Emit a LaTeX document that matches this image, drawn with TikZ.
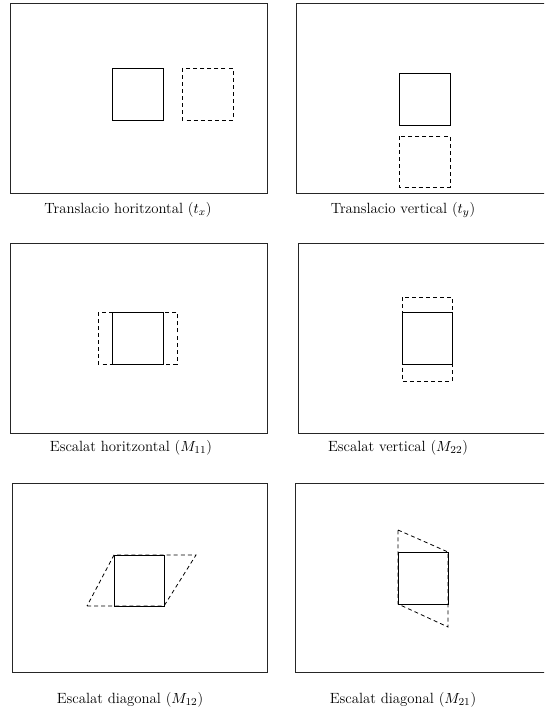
\documentclass[tikz,border=0pt]{standalone}
\begin{document}
\begin{tikzpicture}[x=0.75pt,y=-0.75pt,
  frame/.style={draw=black!85,line width=0.65pt},
  orig/.style={draw=black,line width=0.6pt},
  trans/.style={draw=black,line width=0.6pt,dash pattern=on 3pt off 2.3pt},
  lab/.style={font=\fontsize{11.1}{13}\selectfont,inner sep=0pt,anchor=center}]
\useasboundingbox (0,0) rectangle (544,710);
\clip (0,0) rectangle (544,710);
% Panel 1
\draw[frame] (10,3) rectangle (267,193);
\draw[orig] (112,68) rectangle (163,120);
\draw[trans] (182,68) rectangle (233,120);
\node[lab] (l1) at (128,210) {Translacio horitzontal ($t_x$)};
% Panel 2
\draw[frame] (296,3) rectangle (570,193);
\draw[orig] (399,73) rectangle (450,125);
\draw[trans] (399,136) rectangle (450,187);
\node[lab] (l2) at (403,210) {Translacio vertical ($t_y$)};
% Panel 3
\draw[frame] (10,243) rectangle (267,433);
\draw[trans] (98,312) rectangle (177,364);
\draw[orig] (112,312) rectangle (163,364);
\node[lab] (l3) at (131,448) {Escalat horitzontal ($M_{11}$)};
% Panel 4
\draw[frame] (298,243) rectangle (570,433);
\draw[trans] (402,297) rectangle (452,381);
\draw[orig] (402,312) rectangle (452,364);
\node[lab] (l4) at (398,448) {Escalat vertical ($M_{22}$)};
% Panel 5
\draw[frame] (12,483) rectangle (267,672);
\draw[trans] (87,606) -- (164,606) -- (196,555) -- (114,555) -- cycle;
\draw[orig] (114,555) rectangle (164,606);
\node[lab] (l5) at (130,700) {Escalat diagonal ($M_{12}$)};
% Panel 6
\draw[frame] (295,483) rectangle (570,672);
\draw[trans] (398,530) -- (448,552) -- (448,627) -- (398,604) -- cycle;
\draw[orig] (398,552) rectangle (448,604);
\node[lab] (l6) at (403,700) {Escalat diagonal ($M_{21}$)};
\end{tikzpicture}
\end{document}
